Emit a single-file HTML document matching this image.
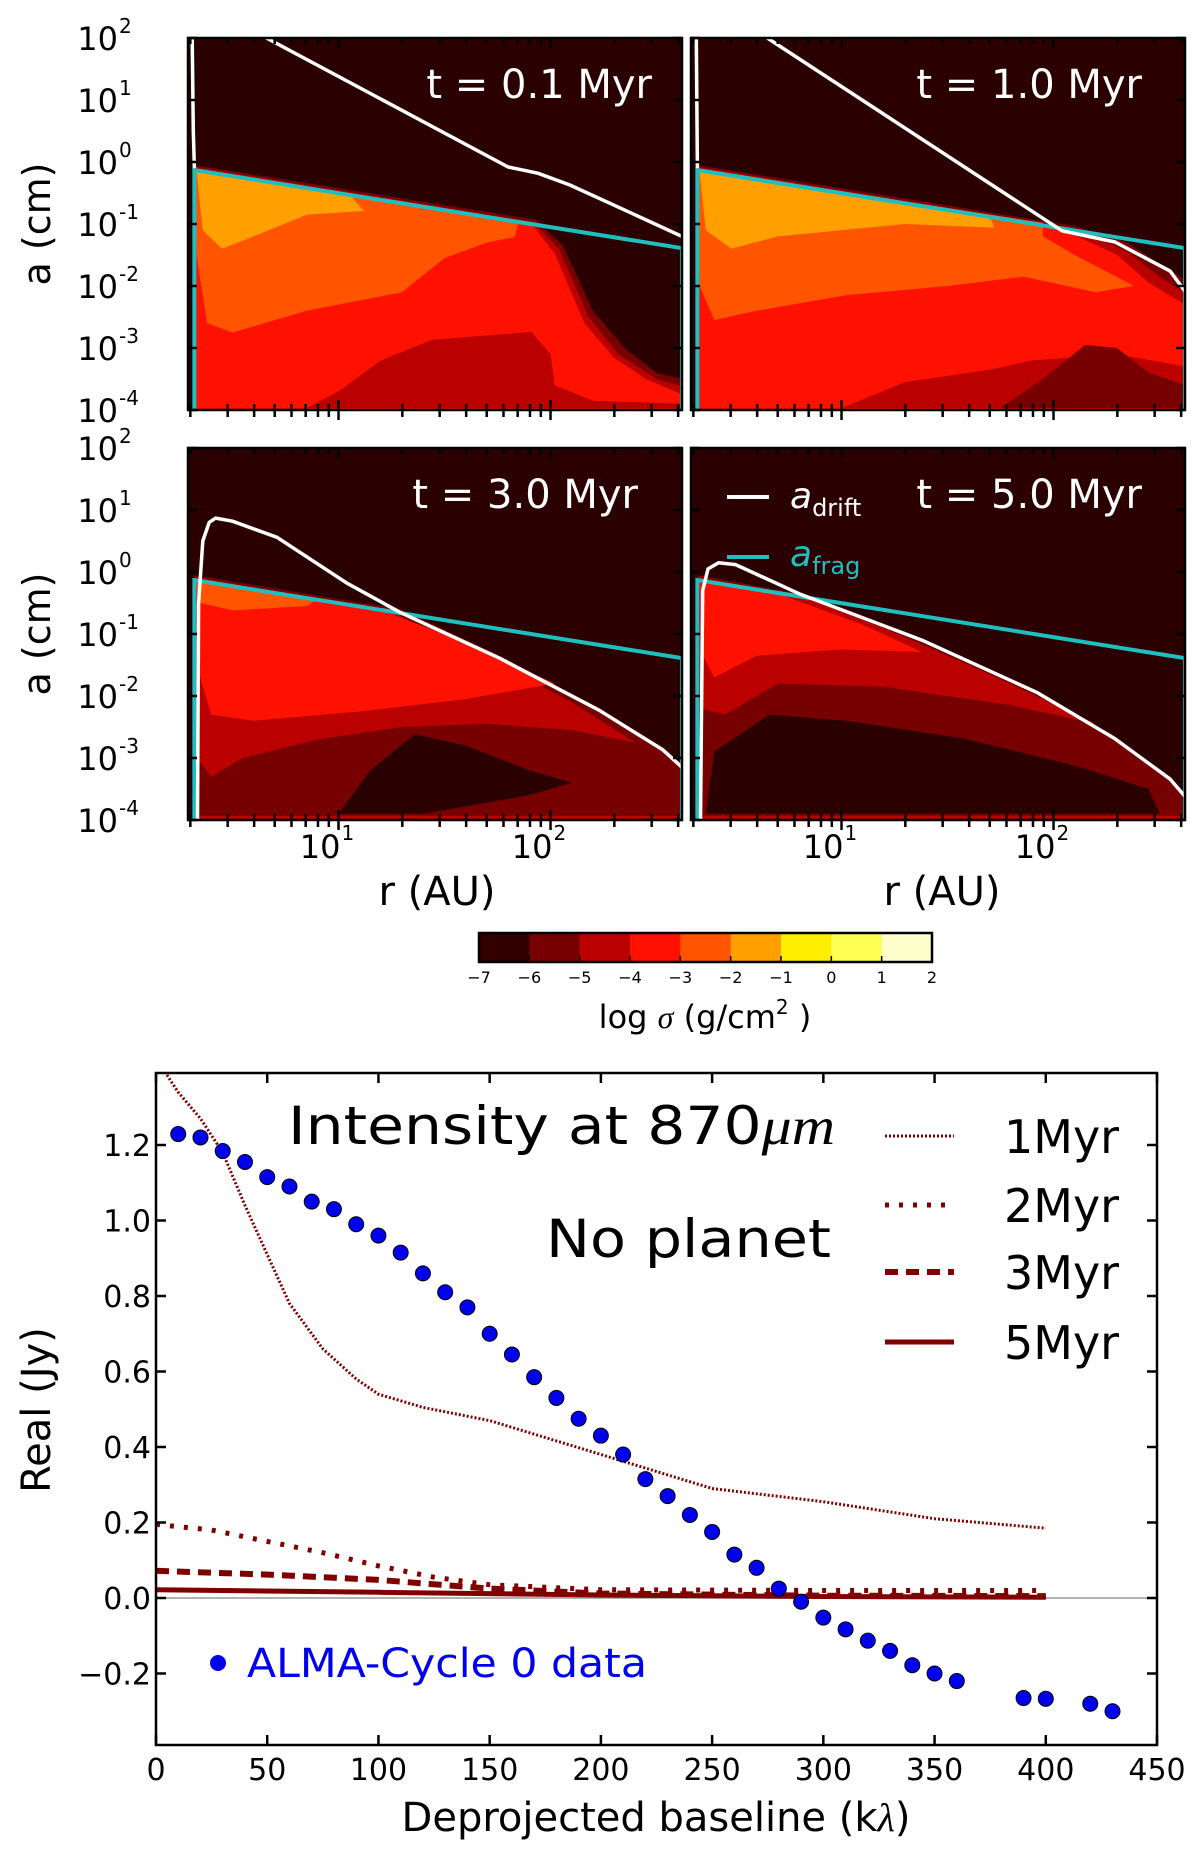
<!DOCTYPE html>
<html><head><meta charset="utf-8"><style>
body{margin:0;background:#fff}
svg text{font-family:"DejaVu Sans","Liberation Sans",sans-serif}
</style></head><body>
<svg id="fig" xmlns="http://www.w3.org/2000/svg" width="1200" height="1855" viewBox="0 0 1200 1855">
<rect width="1200" height="1855" fill="#fff"/>
<g id="panels"></g>
<g id="cbar"></g>
<g id="vis"></g>
</svg>
<script>
const NS='http://www.w3.org/2000/svg';
// ---------- contour panel data (log10 r [AU], log10 a [cm]) ----------
const fragLine=[[0.32,-0.13],[2.62,-1.39]];
const panelTitles=['t =  0.1 Myr','t = 1.0 Myr','t = 3.0 Myr','t = 5.0 Myr'];
const regionsA=[
 ['#770000',[[0.32,-0.05],[1.93,-0.93],[2.06,-1.35],[2.2,-2.4],[2.35,-3.0],[2.5,-3.4],[2.62,-3.5],[2.62,-4],[0.32,-4]]],
 ['#bb0000',[[0.32,-0.08],[1.92,-0.97],[2.04,-1.4],[2.18,-2.5],[2.32,-3.1],[2.5,-3.5],[2.62,-3.62],[2.62,-4],[0.32,-4]]],
 ['#ff1100',[[0.32,-0.1],[1.91,-1.0],[2.02,-1.48],[2.16,-2.6],[2.3,-3.16],[2.45,-3.5],[2.62,-3.75],[2.62,-4],[0.32,-4]]],
 ['#bb0000',[[0.85,-3.97],[1.0,-3.7],[1.2,-3.2],[1.44,-2.87],[1.91,-2.74],[2.0,-3.1],[2.02,-3.6],[2.2,-3.85],[2.62,-3.9],[2.62,-3.97]]],
 ['#ff5500',[[0.32,-0.12],[1.85,-0.97],[1.83,-1.21],[1.7,-1.3],[1.5,-1.55],[1.3,-2.1],[0.85,-2.4],[0.5,-2.75],[0.38,-2.6],[0.33,-1.5]]],
 ['#ffa000',[[0.33,-0.14],[1.05,-0.52],[1.12,-0.79],[0.85,-0.85],[0.6,-1.2],[0.45,-1.4],[0.36,-1.1]]]
];
const regionsB=[
 ['#770000',[[0.32,-0.05],[2.1,-1.03],[2.35,-1.3],[2.5,-1.65],[2.62,-1.9],[2.62,-4],[0.32,-4]]],
 ['#bb0000',[[0.32,-0.08],[2.1,-1.07],[2.35,-1.45],[2.5,-1.85],[2.62,-2.1],[2.62,-4],[0.32,-4]]],
 ['#ff1100',[[0.32,-0.1],[2.05,-1.1],[2.3,-1.5],[2.45,-1.95],[2.62,-2.3],[2.62,-4],[0.32,-4]]],
 ['#bb0000',[[1.0,-3.97],[1.3,-3.55],[1.7,-3.35],[1.9,-3.2],[2.3,-3.1],[2.62,-3.3],[2.62,-3.97]]],
 ['#770000',[[1.75,-3.97],[1.95,-3.5],[2.15,-2.95],[2.3,-3.0],[2.45,-3.4],[2.62,-3.6],[2.62,-3.97]]],
 ['#ff5500',[[0.32,-0.12],[1.95,-0.98],[1.95,-1.2],[2.1,-1.5],[2.38,-2.0],[2.2,-2.1],[1.86,-1.85],[1.5,-2.0],[1.02,-2.15],[0.6,-2.4],[0.4,-2.55],[0.33,-2]]],
 ['#ffa000',[[0.33,-0.14],[1.7,-0.87],[1.72,-1.06],[1.3,-1.0],[0.7,-1.2],[0.48,-1.4],[0.36,-1.1]]]
];
const regionsC=[
 ['#770000',[[0.32,-0.05],[1.29,-0.6],[1.76,-1.35],[2.23,-2.2],[2.53,-2.83],[2.62,-3.1],[2.62,-4],[0.32,-4]]],
 ['#bb0000',[[0.32,-0.08],[1.25,-0.65],[1.6,-1.2],[2.1,-2.1],[2.4,-2.75],[2.1,-2.55],[1.7,-2.45],[1.3,-2.5],[0.9,-2.7],[0.55,-3.0],[0.4,-3.3],[0.33,-3]]],
 ['#ff1100',[[0.32,-0.1],[1.2,-0.62],[1.5,-1.0],[2.02,-1.8],[1.6,-2.05],[1.1,-2.25],[0.6,-2.4],[0.4,-2.3],[0.33,-1.5]]],
 ['#ff5500',[[0.32,-0.12],[0.9,-0.45],[0.85,-0.55],[0.5,-0.62],[0.35,-0.5]]],
 ['#2b0000',[[1.0,-3.9],[1.15,-3.2],[1.36,-2.62],[1.6,-2.8],[1.9,-3.2],[2.1,-3.4],[1.9,-3.6],[1.4,-3.9]]],
 ['#bb0000',[[0.32,-3.93],[2.62,-3.93],[2.62,-4],[0.32,-4]]]
];
const regionsD=[
 ['#770000',[[0.32,-0.05],[0.85,-0.38],[1.38,-1.13],[1.92,-1.97],[2.29,-2.72],[2.55,-3.37],[2.62,-3.6],[2.62,-4],[0.32,-4]]],
 ['#bb0000',[[0.32,-0.08],[0.85,-0.42],[1.3,-1.05],[1.7,-1.65],[2.2,-2.45],[1.8,-2.15],[1.2,-1.85],[0.7,-1.8],[0.45,-2.3],[0.33,-2.2]]],
 ['#ff1100',[[0.33,-0.12],[0.7,-0.35],[1.1,-0.85],[1.38,-1.29],[1.0,-1.25],[0.6,-1.35],[0.4,-1.7],[0.34,-1.3]]],
 ['#2b0000',[[0.36,-3.9],[0.4,-2.9],[0.66,-2.3],[1.02,-2.4],[1.57,-2.68],[2.11,-3.13],[2.45,-3.5],[2.5,-3.9]]],
 ['#bb0000',[[0.32,-3.93],[2.62,-3.93],[2.62,-4],[0.32,-4]]]
];
const driftA=[[[0.31,2],[0.315,0.5],[0.32,-0.1]],[[0.66,2.0],[1.8,-0.08],[1.94,-0.18],[2.09,-0.37],[2.27,-0.65],[2.62,-1.2]]];
const driftB=[[[0.315,2],[0.32,-0.1]],[[0.65,2.0],[2.04,-1.11],[2.29,-1.29],[2.55,-1.76],[2.63,-2.13]]];
const driftC=[[[0.335,-4],[0.34,-0.5],[0.36,0.5],[0.39,0.8],[0.42,0.87],[0.5,0.82],[0.71,0.56],[1.04,-0.18],[1.29,-0.65],[1.76,-1.39],[2.23,-2.23],[2.53,-2.87],[2.62,-3.15]]];
const driftD=[[[0.335,-4],[0.345,-0.3],[0.37,0.05],[0.42,0.15],[0.5,0.12],[0.8,-0.35],[1.38,-1.1],[1.92,-1.94],[2.29,-2.69],[2.55,-3.34],[2.63,-3.66]]];
const yTickExp=['2','1','0','-1','-2','-3','-4'];
const cbarColors=['#330000','#770000','#bb0000','#ff1100','#ff5500','#ffa000','#ffee00','#ffff55','#ffffcc'];
const cbarTicks=['\u22127','\u22126','\u22125','\u22124','\u22123','\u22122','\u22121','0','1','2'];
// ---------- visibility chart data ----------
const almaX=[10,20,30,40,50,60,70,80,90,100,110,120,130,140,150,160,170,180,190,200,210,220,230,240,250,260,270,280,290,300,310,320,330,340,350,360,390,400,420,430];
const almaY=[1.229,1.22,1.184,1.155,1.115,1.09,1.05,1.03,0.99,0.96,0.915,0.86,0.81,0.77,0.70,0.645,0.585,0.53,0.475,0.43,0.38,0.315,0.27,0.22,0.175,0.115,0.08,0.025,-0.01,-0.052,-0.083,-0.113,-0.14,-0.178,-0.2,-0.22,-0.265,-0.267,-0.28,-0.30];
const m1X=[0,10,20,30,40,50,60,75,90,100,120,150,200,250,300,350,400];
const m1Y=[1.43,1.34,1.27,1.18,1.04,0.91,0.78,0.66,0.58,0.54,0.505,0.47,0.38,0.29,0.255,0.21,0.185];
const m2X=[0,25,50,75,100,125,150,200,300,400];
const m2Y=[0.195,0.18,0.15,0.12,0.085,0.055,0.035,0.022,0.02,0.02];
const m3X=[0,50,100,150,200,300,400];
const m3Y=[0.072,0.062,0.048,0.025,0.012,0.006,0.005];
const m5X=[0,100,200,300,400];
const m5Y=[0.022,0.015,0.008,0.004,0.002];
const xTicks=[0,50,100,150,200,250,300,350,400,450];
const yTicks=[-0.2,0.0,0.2,0.4,0.6,0.8,1.0,1.2];
const yTickLabels=['\u22120.2','0.0','0.2','0.4','0.6','0.8','1.0','1.2'];

function mk(tag,attrs,parent){const e=document.createElementNS(NS,tag);for(const k in attrs)e.setAttribute(k,attrs[k]);if(parent)parent.appendChild(e);return e;}

// ---------- panels ----------
const P=document.getElementById('panels');
const panelDefs=[
 {x0:188,y0:38,reg:regionsA,drift:driftA,left:true,bottom:false,title:panelTitles[0],tx:652,ty:98},
 {x0:691,y0:38,reg:regionsB,drift:driftB,left:false,bottom:false,title:panelTitles[1],tx:1142,ty:98},
 {x0:188,y0:448,reg:regionsC,drift:driftC,left:true,bottom:true,title:panelTitles[2],tx:638,ty:508},
 {x0:691,y0:448,reg:regionsD,drift:driftD,left:false,bottom:true,title:panelTitles[3],tx:1142,ty:508,legend:true}
];
const W=494,H=372;
panelDefs.forEach((pd,i)=>{
 const px=lr=>pd.x0+(lr-0.29)*212;
 const py=la=>pd.y0+(2-la)*62;
 const g=mk('g',{},P);
 
 
 const cp=mk('clipPath',{id:'cp'+i},g);
 mk('rect',{x:pd.x0,y:pd.y0,width:W,height:H},cp);
 const inner=mk('g',{'clip-path':'url(#cp'+i+')'},g);
 const bg=mk('rect',{x:pd.x0,y:pd.y0,width:W,height:H,fill:'#2b0000'},inner);
 
 
 pd.reg.forEach(r=>{
  const p=mk('polygon',{points:r[1].map(q=>px(q[0]).toFixed(1)+','+py(q[1]).toFixed(1)).join(' '),fill:r[0]},inner);
  
  
 });
 // frag line with verticals
 const fr=[[fragLine[0][0],-4],fragLine[0],fragLine[1],[fragLine[1][0],-4]];
 const fl=mk('polyline',{points:fr.map(q=>px(q[0])+','+py(q[1])).join(' '),fill:'none',stroke:'#1fbfbf','stroke-width':4},inner);
 
 
 pd.drift.forEach(seg=>{
  const dl=mk('polyline',{points:seg.map(q=>px(q[0]).toFixed(1)+','+py(q[1]).toFixed(1)).join(' '),fill:'none',stroke:'#fff','stroke-width':3.5,'stroke-linejoin':'round'},inner);
  
  
 });
 // ticks
 const tk=mk('g',{stroke:'#000','stroke-width':2.5},g);
 for(let e=-4;e<=2;e++){const y=py(e);mk('line',{x1:pd.x0,y1:y,x2:pd.x0+9,y2:y},tk);mk('line',{x1:pd.x0+W,y1:y,x2:pd.x0+W-9,y2:y},tk);}
 const xs=[];for(let d=0;d<3;d++)for(let m=1;m<10;m++){const v=m*Math.pow(10,d);const l=Math.log10(v);if(l>=0.29&&l<=2.63)xs.push([l,m===1]);}
 xs.forEach(([l,maj])=>{const x=px(l);const L=maj?10:6;mk('line',{x1:x,y1:pd.y0+H,x2:x,y2:pd.y0+H-L},tk);mk('line',{x1:x,y1:pd.y0,x2:x,y2:pd.y0+L},tk);mk('line',{x1:x,y1:pd.y0+H,x2:x,y2:pd.y0+H+(maj?10:7)},tk);});
 const fr2=mk('rect',{x:pd.x0,y:pd.y0,width:W,height:H,fill:'none',stroke:'#000','stroke-width':2.5},g);
 
 
 const t=mk('text',{x:pd.tx,y:pd.ty,'text-anchor':'end','font-size':40,fill:'#fff'},g);
 t.textContent=pd.title;
 
 
 if(pd.left){
  yTickExp.forEach((ex,k)=>{
   const y=pd.y0+k*62;
   const tt=mk('text',{x:118,y:y+12,'text-anchor':'end','font-size':32,fill:'#000'},g);
   tt.textContent='10';
   
   
   const sp=mk('text',{x:119,y:y-5,'font-size':20,fill:'#000'},g);
   sp.textContent=ex;
   
   
  });
  const yl=mk('text',{x:0,y:0,'text-anchor':'middle','font-size':38,fill:'#000',transform:'translate(50,'+(pd.y0+H/2)+') rotate(-90)'},g);
  yl.textContent='a (cm)';
  
  
 }
 if(pd.bottom){
  [1,2].forEach(ex=>{
   const x=px(ex);
   const tt=mk('text',{x:x+2,y:858,'text-anchor':'end','font-size':32,fill:'#000'},g);
   tt.textContent='10';
   
   
   const sp=mk('text',{x:x+3,y:840,'font-size':20,fill:'#000'},g);
   sp.textContent=String(ex);
   
   
  });
  const xl=mk('text',{x:pd.x0+(i===2?249:251),y:905,'text-anchor':'middle','font-size':40,fill:'#000'},g);
  xl.textContent='r (AU)';
  
  
 }
 if(pd.legend){
  const lg=mk('g',{},g);
  
  
  mk('line',{x1:727,y1:497,x2:769,y2:497,stroke:'#fff','stroke-width':4},lg);
  const a1=mk('text',{x:790,y:508,'font-size':36,fill:'#fff','font-style':'italic','font-family':'Liberation Serif,serif'},lg);
  a1.innerHTML='a<tspan font-size="24" dy="8" font-style="normal">drift</tspan>';
  
  
  mk('line',{x1:727,y1:557,x2:769,y2:557,stroke:'#1fbfbf','stroke-width':4},lg);
  const a2=mk('text',{x:790,y:566,'font-size':36,fill:'#1fbfbf','font-style':'italic','font-family':'Liberation Serif,serif'},lg);
  a2.innerHTML='a<tspan font-size="24" dy="8" font-style="normal">frag</tspan>';
  
  
 }
});

// ---------- colorbar ----------
const CB=document.getElementById('cbar');
const cbx0=479,cbx1=932,cby0=933,cby1=962,cw=(cbx1-cbx0)/cbarColors.length;
cbarColors.forEach((c,k)=>{
 const r=mk('rect',{x:cbx0+k*cw,y:cby0,width:cw+0.5,height:cby1-cby0,fill:c},CB);
 
 
});
mk('rect',{x:cbx0,y:cby0,width:cbx1-cbx0,height:cby1-cby0,fill:'none',stroke:'#000','stroke-width':2.5},CB);
cbarTicks.forEach((t,k)=>{
 const x=cbx0+k*cw;
 mk('line',{x1:x,y1:cby1,x2:x,y2:cby1-6,stroke:'#000','stroke-width':1.5},CB);
 const tt=mk('text',{x:x,y:983,'text-anchor':'middle','font-size':16,fill:'#000'},CB);
 tt.textContent=t;
 
 
});
const cbt=mk('text',{x:705,y:1028,'text-anchor':'middle','font-size':32,fill:'#000'},CB);
cbt.innerHTML='log <tspan font-style="italic" font-family="Liberation Serif,serif">σ</tspan> (g/cm<tspan font-size="20" dy="-14">2</tspan><tspan dy="14"> )</tspan>';



// ---------- visibility chart ----------
const V=document.getElementById('vis');
const X0=156,X1=1157,YT=1073,YB=1745;
const sx=v=>X0+v*(X1-X0)/450;
const sy=v=>1598-v*377.5;
const clip=mk('clipPath',{id:'vclip'},V);mk('rect',{x:X0,y:YT,width:X1-X0,height:YB-YT},clip);
const plot=mk('g',{'clip-path':'url(#vclip)'},V);
const zl=mk('line',{x1:X0,y1:sy(0),x2:X1,y2:sy(0),stroke:'#999','stroke-width':1.5},plot);


function series(xs,ys,w,dash,name){
 const p=mk('polyline',{points:xs.map((x,k)=>sx(x).toFixed(1)+','+sy(ys[k]).toFixed(1)).join(' '),fill:'none',stroke:'#800000','stroke-width':w,'stroke-dasharray':dash},plot);
 
 
}
series(m5X,m5Y,5,'none','model-5myr');
series(m3X,m3Y,6,'13 8','model-3myr');
series(m2X,m2Y,5,'4 10 4 10','model-2myr');
series(m1X,m1Y,3,'2 2','model-1myr');
almaX.forEach((x,k)=>{
 const c=mk('circle',{cx:sx(x),cy:sy(almaY[k]),r:7.5,fill:'#0000ee',stroke:'#000','stroke-width':1},plot);
 
 
});
const ax=mk('g',{stroke:'#000','stroke-width':2.5},V);
xTicks.forEach(v=>{const x=sx(v);mk('line',{x1:x,y1:YB,x2:x,y2:YB-10},ax);mk('line',{x1:x,y1:YT,x2:x,y2:YT+10},ax);
 const t=mk('text',{x:x,y:1780,'text-anchor':'middle','font-size':30,fill:'#000',stroke:'none'},V);t.textContent=String(v);
 
 });
yTicks.forEach((v,k)=>{const y=sy(v);mk('line',{x1:X0,y1:y,x2:X0+10,y2:y},ax);mk('line',{x1:X1,y1:y,x2:X1-10,y2:y},ax);
 const t=mk('text',{x:151,y:y+11,'text-anchor':'end','font-size':30,fill:'#000',stroke:'none'},V);t.textContent=yTickLabels[k];
 
 });
const fr=mk('rect',{x:X0,y:YT,width:X1-X0,height:YB-YT,fill:'none',stroke:'#000','stroke-width':2.5},V);


function txt(s,attrs,name,html){const t=mk('text',attrs,V);if(html)t.innerHTML=s;else t.textContent=s;return t;}
txt('Deprojected baseline (k<tspan font-style="italic" font-family="Liberation Serif,serif">λ</tspan>)',{x:656,y:1831,'text-anchor':'middle','font-size':40,fill:'#000'},'x-axis-title',true);
txt('Real (Jy)',{x:0,y:0,'text-anchor':'middle','font-size':40,fill:'#000',transform:'translate(50,1410) rotate(-90)'},'y-axis-title');
txt('Intensity at 870<tspan font-style="italic" font-family="Liberation Serif,serif">μm</tspan>',{x:288,y:1144,'font-size':53,fill:'#000',textLength:547,lengthAdjust:'spacingAndGlyphs'},'chart-title',true);
txt('No planet',{x:546,y:1257,'font-size':53,fill:'#000',textLength:285,lengthAdjust:'spacingAndGlyphs'},'chart-subtitle');
const legY=[1136,1205,1272,1342],legN=['1Myr','2Myr','3Myr','5Myr'],legW=[3,5,6,5],legD=['2 2','4 10','13 8','none'];
legN.forEach((n,k)=>{
 const l=mk('line',{x1:885,y1:legY[k],x2:954,y2:legY[k],stroke:'#800000','stroke-width':legW[k],'stroke-dasharray':legD[k]},V);
 
 
 txt(n,{x:1004,y:legY[k]+17,'font-size':46,fill:'#000'},'legend-label-'+n.toLowerCase());
});
const ld=mk('circle',{cx:218,cy:1663,r:8,fill:'#0000ee'},V);


txt('ALMA-Cycle 0 data',{x:247,y:1677,'font-size':40,fill:'#0000ee',textLength:400,lengthAdjust:'spacingAndGlyphs'},'alma-legend-label');
</script>
</body></html>
